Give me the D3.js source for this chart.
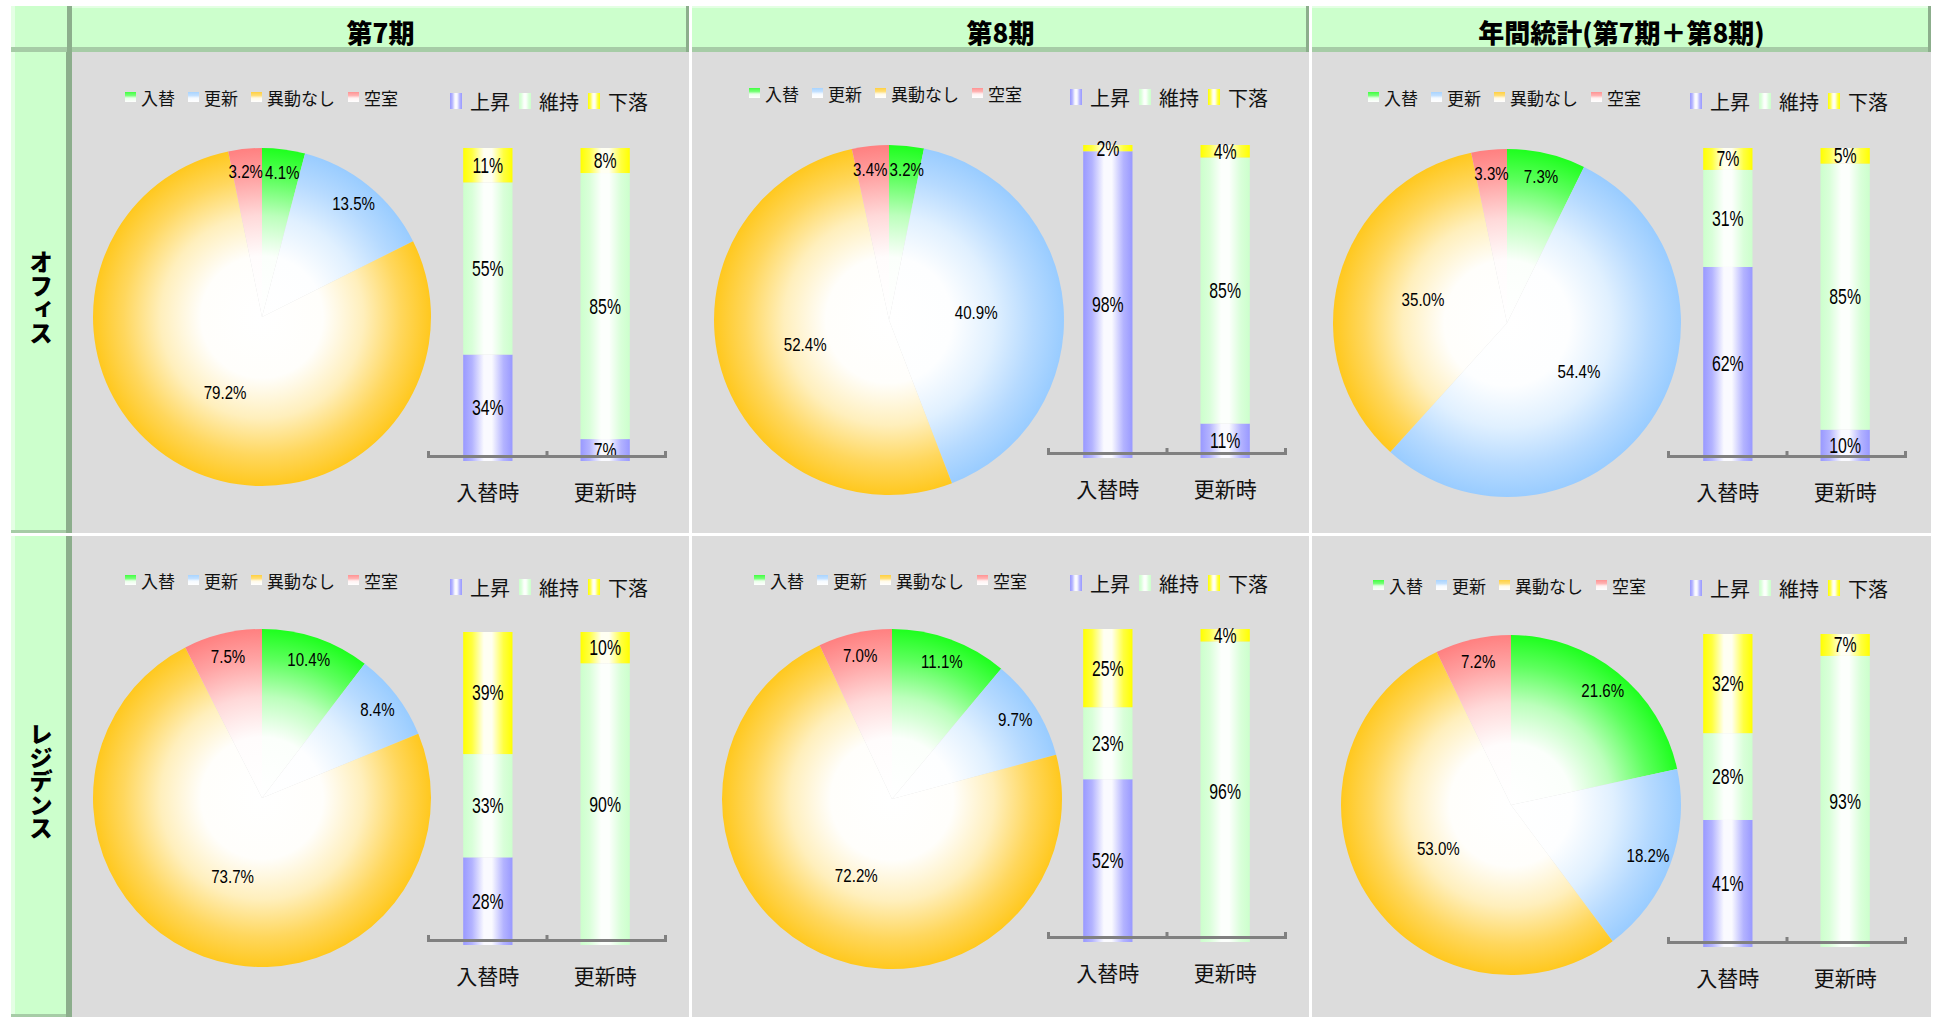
<!DOCTYPE html>
<html>
<head>
<meta charset="utf-8">
<script src="https://cdn.jsdelivr.net/npm/d3@7"></script>
<style>
  html, body { margin: 0; padding: 0; background: #ffffff; }
  svg { display: block; }
  .jp { font-family: "Noto Sans CJK JP", "Noto Sans", sans-serif; }
  .num { font-family: "Liberation Sans", Arial, sans-serif; }
</style>
</head>
<body>
<svg id="chart" width="1935" height="1017"></svg>
<script>
// ---------------- data ----------------
const periods = ["第7期", "第8期", "年間統計(第7期＋第8期)"];
const segments = ["オフィス", "レジデンス"];
const pieCategories = ["入替", "更新", "異動なし", "空室"];
const barCategories = ["入替時", "更新時"];
const rentChanges = ["上昇", "維持", "下落"];

// contract outcome shares (%), order: 入替, 更新, 異動なし, 空室
const officeShares = [
  [4.1, 13.5, 79.2, 3.2],
  [3.2, 40.9, 52.4, 3.4],
  [7.3, 54.4, 35.0, 3.3]
];
const residenceShares = [
  [10.4, 8.4, 73.7, 7.5],
  [11.1, 9.7, 72.2, 7.0],
  [21.6, 18.2, 53.0, 7.2]
];

// rent change (%), order: 上昇, 維持, 下落
const officeRentTurnover = [[34, 55, 11], [98, 0, 2], [62, 31, 7]];
const officeRentRenewal = [[7, 85, 8], [11, 85, 4], [10, 85, 5]];
const residenceRentTurnover = [[28, 33, 39], [52, 23, 25], [41, 28, 32]];
const residenceRentRenewal = [[0, 90, 10], [0, 96, 4], [0, 93, 7]];

// ---------------- layout & style ----------------
const colX = [72, 692, 1312];
const colW = [617, 617, 619];
const rowY = [52, 536];
const rowH = [481, 481];

// per-panel placement [row][col]
const pieGeo = [
  [[190, 265, 169], [197, 268, 175], [195, 271, 174]],
  [[190, 262, 169], [200, 263, 170], [199, 269, 170]]
];
const pieLegendPos = [
  [[53, 45], [57, 41], [56, 45]],
  [[53, 44], [62, 44], [61, 49]]
];
const barLegendY = [[49, 45, 49], [51, 47, 52]];
const barDy = [[0, -3, 0], [0, -3, 2]];

const pieColors = ["#1eff1e", "#99ccff", "#ffc81e", "#ff8080"];
const barColors = ["#9999ff", "#ccffcc", "#ffff00"];
const panelBg = "#dcdcdc";
const headFill = "#ccffcc";
const headLight = "#e4ffe4";
const bevelH = "#a6cca6";
const bevelV = "#8cae8c";
const pieLabelScale = 0.84;

const svg = d3.select("#chart");
const defs = svg.append("defs");
const mix = (c, t) => d3.interpolateRgb("#ffffff", c)(t);

// bar / legend gradients (cylinder-like shading)
barColors.forEach((c, k) => {
  const g = defs.append("linearGradient").attr("id", "bar" + k)
    .attr("x1", 0).attr("x2", 1).attr("y1", 0).attr("y2", 0);
  [[0, 1], [0.18, 0.75], [0.42, 0.05], [0.58, 0.05], [0.82, 0.75], [1, 1]]
    .forEach(([o, t]) => g.append("stop").attr("offset", o).attr("stop-color", mix(c, t)));
});
pieColors.forEach((c, k) => {
  const g = defs.append("linearGradient").attr("id", "pleg" + k)
    .attr("x1", 0).attr("x2", 0).attr("y1", 0).attr("y2", 1);
  [[0, 0.85], [0.35, 0.6], [0.6, 0.1], [1, 0]]
    .forEach(([o, t]) => g.append("stop").attr("offset", o).attr("stop-color", mix(c, t)));
});

// ---------------- frame ----------------
svg.append("rect").attr("width", 1935).attr("height", 1017).attr("fill", "#ffffff");

// corner cell
svg.append("rect").attr("x", 11).attr("y", 6).attr("width", 61).attr("height", 46).attr("fill", headFill);
svg.append("rect").attr("x", 11).attr("y", 6).attr("width", 4).attr("height", 41).attr("fill", headLight);
svg.append("rect").attr("x", 11).attr("y", 47).attr("width", 61).attr("height", 5).attr("fill", bevelH);
svg.append("rect").attr("x", 67).attr("y", 6).attr("width", 5).attr("height", 46).attr("fill", bevelV);

// column headers
periods.forEach((p, c) => {
  const x0 = colX[c], w = colW[c];
  svg.append("rect").attr("x", x0).attr("y", 6).attr("width", w).attr("height", 46).attr("fill", headFill);
  svg.append("rect").attr("x", x0).attr("y", 6).attr("width", w).attr("height", 2).attr("fill", headLight);
  svg.append("rect").attr("x", x0).attr("y", 47).attr("width", w).attr("height", 5).attr("fill", bevelH);
  svg.append("rect").attr("x", x0 + w - 3).attr("y", 6).attr("width", 3).attr("height", 46).attr("fill", bevelV);
  svg.append("text").attr("class", "jp")
    .attr("x", x0 + w / 2).attr("y", 31)
    .attr("text-anchor", "middle").attr("dominant-baseline", "central")
    .attr("font-size", 26).attr("font-weight", 900).attr("fill", "#000")
    .text(p);
});

// row headers
segments.forEach((s, r) => {
  const y0 = rowY[r], h = rowH[r];
  svg.append("rect").attr("x", 11).attr("y", y0).attr("width", 61).attr("height", h).attr("fill", headFill);
  svg.append("rect").attr("x", 11).attr("y", y0).attr("width", 4).attr("height", h).attr("fill", headLight);
  svg.append("rect").attr("x", 11).attr("y", y0 + h - 3).attr("width", 61).attr("height", 3).attr("fill", bevelH);
  svg.append("rect").attr("x", 66).attr("y", y0).attr("width", 6).attr("height", h).attr("fill", bevelV);
  svg.append("text").attr("class", "jp")
    .attr("x", 41).attr("y", y0 + h / 2 + 5)
    .attr("text-anchor", "middle")
    .style("writing-mode", "vertical-rl")
    .attr("font-size", 23.5).attr("font-weight", 900).attr("fill", "#000")
    .text(s);
});

// ---------------- panels ----------------
const pie = d3.pie().sort(null).value(d => d);

segments.forEach((seg, r) => {
  periods.forEach((per, c) => {
    const p = r * 3 + c;
    const shares = r === 0 ? officeShares[c] : residenceShares[c];
    const rents = r === 0
      ? [officeRentTurnover[c], officeRentRenewal[c]]
      : [residenceRentTurnover[c], residenceRentRenewal[c]];

    const g = svg.append("g").attr("transform", `translate(${colX[c]},${rowY[r]})`);
    g.append("rect").attr("width", colW[c]).attr("height", rowH[r]).attr("fill", panelBg);

    // ---- pie ----
    const [cx, cy, R] = pieGeo[r][c];
    pieColors.forEach((col, k) => {
      const rg = defs.append("radialGradient").attr("id", `pg${p}-${k}`)
        .attr("gradientUnits", "userSpaceOnUse")
        .attr("cx", 0).attr("cy", 0).attr("r", R);
      [[0, 0], [0.36, 0.02], [0.6, 0.3], [0.82, 0.72], [1, 1]]
        .forEach(([o, t]) => rg.append("stop").attr("offset", o).attr("stop-color", mix(col, t)));
    });
    const pg = g.append("g").attr("transform", `translate(${cx},${cy})`);
    const arcs = pie(shares);
    const arc = d3.arc().innerRadius(0).outerRadius(R);
    pg.selectAll("path.slice").data(arcs).join("path")
      .attr("class", "slice")
      .attr("d", arc)
      .attr("fill", (d, i) => `url(#pg${p}-${i})`);

    // value labels: large slices halfway out, small slices near the rim
    const spots = arcs.map(d => {
      const f = d.data >= 30 ? 0.5 : 0.86;
      const a = (d.startAngle + d.endAngle) / 2;
      return { x: Math.sin(a) * R * f, y: -Math.cos(a) * R * f, w: 0 };
    });
    const labels = pg.selectAll("text").data(arcs).join("text")
      .attr("class", "num")
      .attr("text-anchor", "middle").attr("dominant-baseline", "central")
      .attr("font-size", 18).attr("fill", "#000")
      .text(d => d.data.toFixed(1) + "%");
    labels.each(function (d, i) { spots[i].w = this.getComputedTextLength() * pieLabelScale; });
    // nudge neighbouring labels apart when they collide
    for (let i = 0; i < spots.length; i++) {
      for (let j = i + 1; j < spots.length; j++) {
        const a = spots[i], b = spots[j];
        if (Math.abs(a.y - b.y) > 16) continue;
        const overlap = (a.w + b.w) / 2 + 2 - Math.abs(a.x - b.x);
        if (overlap > 0) {
          const s = a.x < b.x ? -1 : 1;
          a.x += s * overlap / 2;
          b.x -= s * overlap / 2;
        }
      }
    }
    labels.attr("transform", (d, i) => `translate(${spots[i].x},${spots[i].y}) scale(${pieLabelScale},1)`);

    // ---- pie legend ----
    const [lx, ly] = pieLegendPos[r][c];
    const pl = g.append("g").attr("transform", `translate(${lx},${ly})`);
    let off = 0;
    pieCategories.forEach((name, k) => {
      pl.append("rect").attr("x", off).attr("y", -5).attr("width", 11).attr("height", 10)
        .attr("fill", `url(#pleg${k})`);
      pl.append("text").attr("class", "jp")
        .attr("x", off + 16).attr("y", 0)
        .attr("dominant-baseline", "central")
        .attr("font-size", 17).attr("fill", "#111")
        .text(name);
      off += 11 + 5 + name.length * 17 + 13;
    });

    // ---- bar legend ----
    const bl = g.append("g").attr("transform", `translate(378,${barLegendY[r][c]})`);
    let boff = 0;
    rentChanges.forEach((name, k) => {
      bl.append("rect").attr("x", boff).attr("y", -8).attr("width", 12).attr("height", 16)
        .attr("fill", `url(#bar${k})`);
      bl.append("text").attr("class", "jp")
        .attr("x", boff + 20).attr("y", 0)
        .attr("dominant-baseline", "central")
        .attr("font-size", 20).attr("fill", "#111")
        .text(name);
      boff += 12 + 8 + name.length * 20 + 9;
    });

    // ---- 100% stacked bars ----
    const bg = g.append("g").attr("transform", `translate(0,${barDy[r][c]})`);
    const x = d3.scaleBand().domain(barCategories).range([356, 593])
      .paddingInner(0.58).paddingOuter(0.3);
    const y = d3.scaleLinear().domain([0, 1]).range([409, 96]);
    const rows = barCategories.map((cat, i) => ({ cat, v: rents[i] }));
    const series = d3.stack().keys([0, 1, 2])
      .value((d, k) => d.v[k])
      .offset(d3.stackOffsetExpand)(rows);

    const sg = bg.selectAll("g.series").data(series).join("g").attr("class", "series")
      .attr("fill", s => `url(#bar${s.key})`);
    sg.selectAll("rect").data(s => s).join("rect")
      .attr("x", d => x(d.data.cat))
      .attr("width", x.bandwidth())
      .attr("y", d => y(d[1]))
      .attr("height", d => Math.max(0, y(d[0]) - y(d[1])));

    const vals = [];
    series.forEach(s => s.forEach(d => {
      const v = d.data.v[s.key];
      if (v > 0) vals.push({ cat: d.data.cat, v, mid: (d[0] + d[1]) / 2 });
    }));
    bg.selectAll("text.val").data(vals).join("text")
      .attr("class", "val num")
      .attr("transform", d => `translate(${x(d.cat) + x.bandwidth() / 2},${y(d.mid)}) scale(0.72,1)`)
      .attr("text-anchor", "middle").attr("dominant-baseline", "central")
      .attr("font-size", 22).attr("fill", "#000")
      .text(d => d.v + "%");

    // category axis (bracket with upward ticks)
    const tx = d3.scaleLinear().domain([0, barCategories.length]).range([356, 593]);
    bg.append("g").attr("transform", "translate(0,404)")
      .call(d3.axisBottom(tx).tickValues(d3.range(barCategories.length + 1))
        .tickSizeInner(-5).tickSizeOuter(-5).tickFormat(""))
      .call(a => a.selectAll("path, line").attr("stroke", "#808080").attr("stroke-width", 3).attr("fill", "none"));

    bg.selectAll("text.cat").data(barCategories).join("text")
      .attr("class", "cat jp")
      .attr("x", d => x(d) + x.bandwidth() / 2)
      .attr("y", 439)
      .attr("text-anchor", "middle").attr("dominant-baseline", "central")
      .attr("font-size", 21).attr("fill", "#111")
      .text(d => d);
  });
});

// white separators between panels
svg.append("rect").attr("x", 689).attr("y", 52).attr("width", 3).attr("height", 965).attr("fill", "#ffffff");
svg.append("rect").attr("x", 1309).attr("y", 52).attr("width", 3).attr("height", 965).attr("fill", "#ffffff");
svg.append("rect").attr("x", 72).attr("y", 533).attr("width", 1859).attr("height", 3).attr("fill", "#ffffff");
</script>
</body>
</html>
